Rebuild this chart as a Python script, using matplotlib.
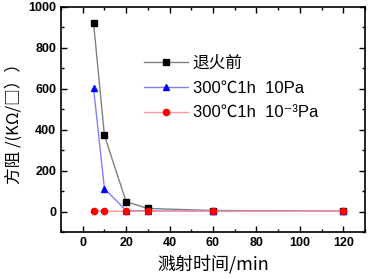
import matplotlib
matplotlib.use('Agg')
import matplotlib.pyplot as plt
from matplotlib.ticker import MultipleLocator

plt.rcParams['font.family'] = ['Liberation Sans', 'Noto Sans CJK SC', 'DejaVu Sans']

# sputtering time (min)
t = [5, 10, 20, 30, 60, 120]
# sheet resistance (KOhm/sq)
before = [922, 372, 48, 15, 5, 2]
ann_10pa = [603, 112, 5, 3, 2, 1]
ann_1e3pa = [3, 2, 1, 1, 0.5, 0.5]

labels = ['退火前', '300℃1h  10Pa', '300℃1h  10⁻³Pa']

fig = plt.figure(figsize=(3.71, 2.79), dpi=100)
ax = fig.add_axes([0.1644, 0.1685, 0.8194, 0.8065])

ax.plot(t, before, color='#808080', lw=1, marker='s', ms=4.5,
        mfc='black', mec='black', label=labels[0])
ax.plot(t, ann_10pa, color='#8080ff', lw=1, marker='^', ms=5,
        mfc='blue', mec='blue', label=labels[1])
ax.plot(t, ann_1e3pa, color='#ff9999', lw=1, marker='o', ms=4.5,
        mfc='red', mec='red', label=labels[2])

ax.set_xlim(-10, 130)
ax.set_ylim(-100, 1000)
ax.xaxis.set_major_locator(MultipleLocator(20))
ax.xaxis.set_minor_locator(MultipleLocator(10))
ax.yaxis.set_major_locator(MultipleLocator(200))
ax.yaxis.set_minor_locator(MultipleLocator(100))
ax.tick_params(which='both', direction='in', top=True, right=True)
ax.tick_params(which='major', length=4, width=1, labelsize=9)
ax.tick_params(which='minor', length=2.5, width=1)
for lab in ax.get_xticklabels() + ax.get_yticklabels():
    lab.set_fontweight('bold')
for s in ax.spines.values():
    s.set_linewidth(1.2)

ax.set_xlabel('溅射时间/min', fontsize=13, family=['Noto Sans CJK SC'])
ax.set_ylabel('方阻 /(KΩ/□））', fontsize=12, family=['Noto Sans CJK SC', 'DejaVu Sans'])

leg = ax.legend(loc='upper left', bbox_to_anchor=(0.225, 0.85), frameon=False,
                fontsize=12, handlelength=2.6, labelspacing=0.6, handletextpad=0.3)

fig.savefig('out.png', dpi=100)
